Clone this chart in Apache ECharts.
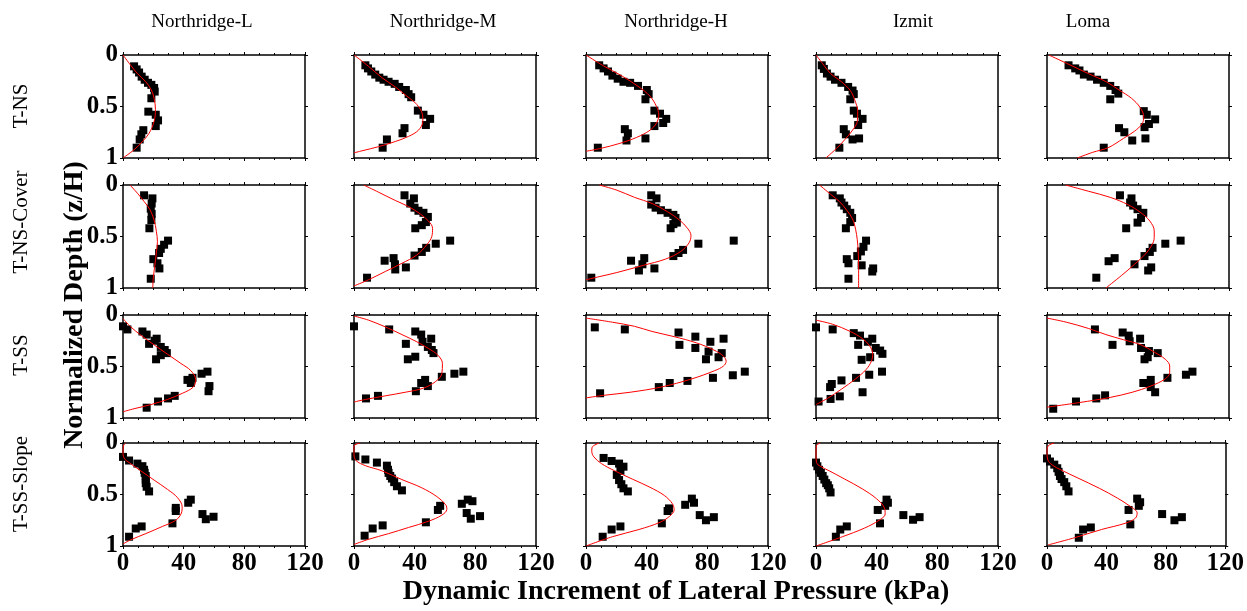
<!DOCTYPE html>
<html>
<head>
<meta charset="utf-8">
<script src="https://cdn.jsdelivr.net/npm/echarts@6/dist/echarts.min.js"></script>
<style>
html, body { margin: 0; padding: 0; background: #fff; }
#chart { width: 1247px; height: 611px; }
</style>
</head>
<body>
<div id="chart"></div>
<script>
var records = ['Northridge-L', 'Northridge-M', 'Northridge-H', 'Izmit', 'Loma'];
var models = ['T-NS', 'T-NS-Cover', 'T-SS', 'T-SS-Slope'];
var xTicks = [0, 40, 80, 120];

// each pair: measured [kPa, z/H] and the red fitted profile
// T-NS
var tns_L_pts = [[7.3,0.11],[9,0.14],[10.6,0.17],[12.3,0.21],[14.3,0.24],[16.5,0.27],[18.7,0.29],[20.5,0.32],[20.9,0.355],[18.7,0.42],[16.7,0.55],[21.6,0.58],[23.1,0.635],[21.6,0.69],[13.4,0.73],[12.1,0.77],[11,0.82],[9,0.9]];
var tns_L_fit = [[0,0],[5.1,0.1],[9.5,0.18],[15,0.26],[18.7,0.34],[20.5,0.42],[21.4,0.53],[20.5,0.645],[17.2,0.76],[12.8,0.84],[7.3,0.92],[0,1]];
var tns_M_pts = [[7.5,0.1],[9.2,0.13],[11.4,0.16],[14,0.19],[16.7,0.22],[19.5,0.24],[22.8,0.26],[26.8,0.28],[29.8,0.31],[34.2,0.34],[36,0.38],[37.7,0.41],[42.1,0.54],[45.8,0.58],[50.2,0.62],[47.4,0.68],[33.3,0.71],[32,0.76],[21.7,0.82],[18.9,0.9]];
var tns_M_fit = [[0,0],[9.6,0.11],[18.4,0.22],[27.2,0.31],[34.9,0.4],[41.4,0.48],[45.2,0.58],[45.4,0.645],[42.5,0.73],[36,0.79],[27.2,0.84],[16.2,0.89],[5.3,0.93],[0,0.95]];
var tns_H_pts = [[8.7,0.1],[11.6,0.13],[14.5,0.16],[17.4,0.2],[20.9,0.23],[24.7,0.26],[29.1,0.27],[34.3,0.3],[40.1,0.34],[41.3,0.38],[39.2,0.43],[45.1,0.54],[48.8,0.57],[52.9,0.62],[50.9,0.66],[45.1,0.69],[25.6,0.72],[27.6,0.76],[26.7,0.83],[39.2,0.81],[7.8,0.9]];
var tns_H_fit = [[0,0],[11.6,0.106],[23.3,0.2],[34.9,0.31],[42.2,0.4],[46.5,0.5],[48,0.58],[46.5,0.66],[42.2,0.73],[33.4,0.8],[21.8,0.86],[10.2,0.905],[0,0.935]];
var tns_I_pts = [[3.8,0.1],[5.2,0.135],[7.2,0.18],[9.6,0.21],[12.5,0.24],[16.8,0.27],[21.2,0.31],[24.1,0.345],[24.9,0.38],[22.6,0.43],[24.9,0.54],[27,0.57],[30.7,0.62],[27.8,0.68],[18.3,0.72],[19.7,0.77],[24.1,0.82],[28.4,0.81],[15.4,0.9]];
var tns_I_fit = [[0,0],[5.2,0.1],[9.6,0.18],[16.8,0.26],[22.6,0.345],[25.5,0.435],[27.5,0.55],[27.2,0.645],[24.1,0.73],[19.1,0.82],[13.3,0.91],[6.5,1]];
var tns_Lo_pts = [[14.2,0.1],[18.6,0.13],[21.4,0.15],[24.3,0.19],[28.7,0.21],[33,0.24],[37.4,0.27],[41.7,0.3],[45.2,0.34],[47,0.375],[41.7,0.43],[63.8,0.545],[65.8,0.58],[71.3,0.625],[67.2,0.67],[64.3,0.7],[47.5,0.71],[51,0.75],[56.2,0.83],[64.9,0.81],[37.4,0.9]];
var tns_Lo_fit = [[1.2,0],[12.8,0.08],[27.2,0.18],[39.1,0.26],[47.5,0.34],[55.7,0.42],[61.4,0.51],[63.8,0.6],[62.6,0.67],[57.7,0.74],[50.4,0.81],[40.3,0.9],[30.1,0.945],[20,1]];

// T-NS-Cover
var cov_L_pts = [[13.9,0.1],[19.4,0.13],[18.9,0.18],[18.3,0.23],[18.9,0.28],[18.7,0.34],[17.4,0.42],[29.7,0.54],[27.1,0.58],[24.9,0.62],[23.8,0.66],[20,0.72],[22.7,0.76],[24,0.81],[18.3,0.91]];
var cov_L_fit = [[4.6,0],[9.5,0.08],[13.9,0.16],[17.8,0.24],[20.5,0.34],[22,0.45],[22.7,0.55],[22,0.66],[20.9,0.79],[20,0.9],[19.6,1]];
var cov_M_pts = [[33.3,0.1],[39.5,0.13],[37.1,0.18],[39.9,0.22],[42.5,0.25],[45.8,0.27],[48.7,0.31],[47.4,0.36],[44.7,0.39],[40.4,0.42],[53.9,0.57],[63.4,0.54],[47.6,0.61],[44.7,0.65],[39.9,0.685],[26.1,0.71],[20.2,0.735],[27,0.77],[34.2,0.8],[27.2,0.82],[8.6,0.9]];
var cov_M_fit = [[6.4,0],[16.2,0.07],[27.2,0.15],[36,0.21],[43.6,0.28],[49.1,0.35],[51.8,0.42],[51.3,0.5],[48,0.58],[41.4,0.68],[31.6,0.76],[20.6,0.84],[9.6,0.92],[0,0.98]];
var cov_H_pts = [[43,0.1],[46.5,0.13],[43,0.19],[45.9,0.22],[49.4,0.245],[53.8,0.27],[57.6,0.29],[59,0.32],[59.9,0.365],[57.6,0.38],[55.8,0.42],[74.1,0.57],[97.4,0.54],[64,0.63],[61,0.66],[57.6,0.69],[29.7,0.735],[38.4,0.71],[37.2,0.77],[34.9,0.83],[45.1,0.81],[3.5,0.9]];
var cov_H_fit = [[8.7,0],[20.3,0.05],[32,0.12],[43.6,0.18],[53.8,0.26],[61.6,0.34],[66.9,0.42],[69.2,0.49],[68,0.56],[62.5,0.645],[52.3,0.72],[37.8,0.78],[20.3,0.85],[8.7,0.89],[0,0.92]];
var cov_I_pts = [[11,0.1],[15.7,0.13],[16.8,0.17],[18.6,0.2],[20.3,0.235],[22.6,0.27],[23.8,0.32],[22.6,0.36],[19.7,0.42],[33,0.54],[31.3,0.6],[29.6,0.645],[27.2,0.69],[20.3,0.72],[21.4,0.76],[30.1,0.78],[37.7,0.81],[37.1,0.84],[21.4,0.91]];
var cov_I_fit = [[2.3,0],[9.6,0.09],[15.4,0.16],[20.3,0.245],[24.1,0.33],[26.1,0.43],[27.2,0.53],[27.8,0.64],[28.1,0.8],[28.1,1]];
var cov_Lo_pts = [[48.1,0.1],[55.7,0.13],[54.8,0.17],[56.8,0.2],[59.7,0.235],[63.5,0.27],[62,0.32],[59.7,0.365],[52.2,0.42],[78,0.57],[88.1,0.54],[69.6,0.61],[67.8,0.65],[64.3,0.69],[57.7,0.77],[44.6,0.71],[40.6,0.74],[68.7,0.8],[66.7,0.83],[32.5,0.9]];
var cov_Lo_fit = [[12.2,0],[27.2,0.06],[41.7,0.12],[53.3,0.19],[62,0.27],[67.8,0.35],[70.7,0.445],[70.7,0.51],[69.3,0.58],[64.9,0.67],[57.7,0.77],[49,0.88],[38.8,1]];

// T-SS
var ss_L_pts = [[0,0.11],[2.9,0.14],[12.8,0.16],[15.6,0.19],[17.2,0.28],[20.9,0.25],[22.2,0.23],[24.9,0.31],[27.5,0.34],[28.9,0.37],[24.9,0.39],[21.8,0.43],[51.8,0.57],[55.7,0.55],[42.5,0.63],[44.7,0.66],[45.8,0.61],[57,0.69],[56.4,0.74],[34.1,0.785],[29.7,0.81],[23.1,0.84],[15.6,0.9]];
var ss_L_fit = [[0,0.035],[5.1,0.115],[11.7,0.195],[20.5,0.29],[29.3,0.38],[38.1,0.47],[44.7,0.54],[48,0.63],[46.3,0.7],[39.2,0.76],[29.3,0.82],[18.3,0.87],[7.3,0.91],[0,0.94]];
var ss_M_pts = [[0,0.11],[23.2,0.14],[40.4,0.16],[44.3,0.19],[50.9,0.23],[45.2,0.26],[34.2,0.28],[48.7,0.31],[51.3,0.34],[52.4,0.37],[40.4,0.405],[35.5,0.43],[66.2,0.57],[72.1,0.55],[57.9,0.6],[46.9,0.63],[44.3,0.66],[48.7,0.69],[40.8,0.74],[15.8,0.785],[7.9,0.81]];
var ss_M_fit = [[0,0.01],[9.6,0.05],[20.6,0.115],[31.6,0.19],[41.4,0.26],[49.1,0.325],[55.3,0.39],[58.3,0.47],[57.9,0.57],[53.9,0.645],[45.8,0.71],[33.8,0.75],[20.6,0.785],[7.5,0.82],[0,0.845]];
var ss_H_pts = [[5.8,0.12],[25.6,0.14],[61,0.17],[72.1,0.21],[90.7,0.23],[82,0.26],[61.6,0.29],[72.1,0.32],[80.8,0.355],[89.5,0.37],[87.4,0.41],[79.1,0.43],[104.7,0.55],[96.8,0.585],[83.7,0.61],[66.9,0.64],[55.2,0.66],[48,0.7],[9.3,0.76]];
var ss_H_fit = [[0,0.03],[17.4,0.07],[32,0.11],[43.6,0.16],[58.1,0.21],[72.7,0.27],[84.3,0.34],[90.7,0.4],[92.4,0.45],[90.7,0.495],[84.9,0.54],[69.8,0.62],[49.4,0.7],[29.1,0.75],[11.6,0.78],[0,0.805]];
var ss_I_pts = [[0,0.12],[11,0.14],[24.9,0.176],[29,0.2],[37.1,0.23],[34.2,0.26],[27.8,0.29],[39.4,0.32],[42.3,0.345],[43.8,0.377],[35.7,0.41],[30.1,0.435],[43.5,0.55],[35.1,0.58],[26.4,0.61],[16.8,0.635],[10.4,0.67],[9.3,0.7],[30.7,0.75],[15.7,0.79],[9.6,0.815],[1.7,0.84]];
var ss_I_fit = [[0,0.05],[11,0.09],[22.6,0.16],[30.7,0.23],[35.4,0.3],[37.4,0.38],[36.5,0.45],[33,0.53],[26.1,0.62],[16.8,0.72],[7.5,0.81],[0,0.87]];
var ss_Lo_pts = [[31.6,0.14],[49.9,0.17],[53.9,0.2],[61.4,0.23],[54.5,0.255],[43.2,0.29],[62,0.32],[67.2,0.35],[73,0.37],[66.4,0.41],[64.3,0.43],[95.9,0.55],[91.6,0.58],[79.4,0.61],[68.4,0.63],[63.5,0.66],[68.4,0.7],[71.3,0.75],[38.3,0.78],[32.5,0.81],[19.1,0.84],[4.1,0.91]];
var ss_Lo_fit = [[0,0.03],[12.8,0.07],[27.2,0.13],[38.8,0.19],[50.4,0.24],[62,0.29],[70.7,0.36],[78,0.43],[80.9,0.495],[80.9,0.56],[78,0.62],[68.4,0.69],[56.2,0.75],[41.7,0.8],[21.4,0.85],[0,0.895]];

// T-SS-Slope
var sl_L_pts = [[0,0.135],[4,0.17],[9.5,0.2],[12.8,0.225],[13.9,0.26],[14.3,0.29],[15,0.32],[15,0.355],[15,0.39],[15.6,0.425],[17.2,0.47],[44.7,0.55],[43,0.58],[34.8,0.63],[34.8,0.66],[32.6,0.78],[52.4,0.69],[54.6,0.74],[59.7,0.716],[12.3,0.81],[8.4,0.83],[4,0.91]];
var sl_L_fit = [[1.8,0],[0.2,0.03],[0,0.1],[1.1,0.155],[4,0.19],[11.7,0.27],[20.5,0.36],[29.3,0.45],[35.9,0.53],[39,0.62],[38.5,0.68],[34.8,0.75],[26,0.81],[15,0.88],[5.1,0.94],[0,0.98]];
var sl_M_pts = [[0.9,0.13],[7.5,0.16],[15.1,0.19],[21.7,0.22],[22.4,0.26],[22.8,0.29],[23.9,0.32],[25,0.345],[26.5,0.38],[28.3,0.42],[31.6,0.46],[56.8,0.61],[55.3,0.65],[47.4,0.77],[71.1,0.59],[75,0.55],[78.1,0.565],[74.3,0.68],[77,0.735],[83.1,0.71],[18.9,0.8],[12.3,0.83],[7,0.9]];
var sl_M_fit = [[4.2,0],[0,0.03],[0,0.11],[1.3,0.17],[7.5,0.22],[18.4,0.27],[31.6,0.355],[44.7,0.435],[54.6,0.52],[60.5,0.6],[61.2,0.645],[57.9,0.7],[49.1,0.76],[36,0.82],[22.8,0.88],[9.6,0.935],[0,0.985]];
var sl_H_pts = [[11.6,0.145],[16.9,0.175],[21.8,0.2],[24.7,0.23],[22.7,0.27],[20.3,0.31],[21.8,0.36],[23.3,0.4],[24.7,0.44],[27.6,0.47],[54.7,0.635],[53.8,0.66],[65.4,0.6],[69.8,0.54],[71.2,0.58],[75,0.7],[79.1,0.75],[84.3,0.72],[50,0.78],[22.7,0.81],[16.9,0.84],[11,0.91]];
var sl_H_fit = [[8.7,0],[4.1,0.04],[3.8,0.08],[5.2,0.135],[10.2,0.2],[18.9,0.27],[30.5,0.35],[42.2,0.43],[51.7,0.51],[57,0.59],[58.1,0.65],[55.2,0.71],[48.8,0.77],[34.9,0.84],[17.4,0.91],[0,1]];
var sl_I_pts = [[0,0.19],[0.9,0.226],[2,0.26],[3.2,0.29],[4.4,0.32],[5.5,0.355],[6.7,0.39],[7.8,0.41],[8.7,0.44],[9.6,0.48],[40.7,0.65],[46.5,0.55],[47.4,0.58],[45.6,0.61],[42.2,0.78],[57.6,0.7],[64,0.745],[68.3,0.72],[20.3,0.81],[16,0.84],[13.1,0.91]];
var sl_I_fit = [[2.9,0],[0.3,0.025],[0,0.105],[0.3,0.19],[2.9,0.226],[8.7,0.27],[18.9,0.35],[30.5,0.445],[39.8,0.54],[45.1,0.63],[45.6,0.69],[41.6,0.75],[32,0.826],[17.4,0.91],[0,1]];
var sl_Lo_pts = [[0,0.15],[2,0.18],[4.9,0.21],[6.9,0.245],[7.8,0.28],[8.7,0.32],[9.8,0.35],[11.6,0.38],[13,0.42],[14.5,0.47],[54.9,0.65],[60.7,0.54],[62.7,0.575],[61.8,0.61],[56.1,0.79],[77.5,0.69],[85.8,0.75],[90.8,0.72],[29.5,0.82],[24.3,0.84],[21.4,0.92]];
var sl_Lo_fit = [[4.9,0],[0.9,0.026],[0,0.084],[0.6,0.165],[3.5,0.213],[9.2,0.26],[20.8,0.34],[35.3,0.44],[47.4,0.535],[56.1,0.616],[60.7,0.68],[59.5,0.73],[53.2,0.777],[36.7,0.84],[18.5,0.92],[0.6,0.99]];

var panels = [
	[[tns_L_pts, tns_L_fit], [tns_M_pts, tns_M_fit], [tns_H_pts, tns_H_fit], [tns_I_pts, tns_I_fit], [tns_Lo_pts, tns_Lo_fit]],
	[[cov_L_pts, cov_L_fit], [cov_M_pts, cov_M_fit], [cov_H_pts, cov_H_fit], [cov_I_pts, cov_I_fit], [cov_Lo_pts, cov_Lo_fit]],
	[[ss_L_pts, ss_L_fit], [ss_M_pts, ss_M_fit], [ss_H_pts, ss_H_fit], [ss_I_pts, ss_I_fit], [ss_Lo_pts, ss_Lo_fit]],
	[[sl_L_pts, sl_L_fit], [sl_M_pts, sl_M_fit], [sl_H_pts, sl_H_fit], [sl_I_pts, sl_I_fit], [sl_Lo_pts, sl_Lo_fit]]
];

var colLeft = [123, 354, 586, 816, 1047];
var rowTop = [55, 185, 315, 443];
var panelW = 182, panelH = 103;
var titleX = [202, 443, 676, 913, 1088];
var rowLabelY = [106, 222, 355, 484];
var serif = 'Liberation Serif';

var grids = [], xAxes = [], yAxes = [], series = [];

panels.forEach(function(row, r) {
	row.forEach(function(p, c) {
		var k = grids.length;
		grids.push({ left: colLeft[c], top: rowTop[r], width: panelW, height: panelH });
		['bottom', 'top'].forEach(function(pos) {
			xAxes.push({
				gridIndex: k,
				type: 'value',
				position: pos,
				min: 0,
				max: 120,
				interval: 40,
				axisLine: { show: true, onZero: false, lineStyle: { color: '#000', width: 1.5 } },
				axisTick: { show: true, length: 3, lineStyle: { color: '#000', width: 1 } },
				minorTick: { show: true, splitNumber: 4, length: 2, lineStyle: { color: '#000', width: 1 } },
				splitLine: { show: false },
				axisLabel: {
					show: pos === 'bottom' && r === 3,
					margin: 5,
					color: '#000',
					fontFamily: serif,
					fontWeight: 'bold',
					fontSize: 25,
					customValues: xTicks
				}
			});
		});
		['left', 'right'].forEach(function(pos) {
			yAxes.push({
				gridIndex: k,
				type: 'value',
				position: pos,
				inverse: true,
				min: 0,
				max: 1,
				interval: 0.5,
				axisLine: { show: true, onZero: false, lineStyle: { color: '#000', width: 1.5 } },
				axisTick: { show: true, length: 3, lineStyle: { color: '#000', width: 1 } },
				splitLine: { show: false },
				axisLabel: {
					show: pos === 'left' && c === 0,
					margin: 5,
					color: '#000',
					fontFamily: serif,
					fontWeight: 'bold',
					fontSize: 25
				}
			});
		});
		series.push({
			type: 'scatter',
			xAxisIndex: 2 * k,
			yAxisIndex: 2 * k,
			symbol: 'rect',
			symbolSize: 8,
			itemStyle: { color: '#000', opacity: 1 },
			data: p[0],
			z: 2
		});
		series.push({
			type: 'line',
			xAxisIndex: 2 * k,
			yAxisIndex: 2 * k,
			smooth: 0.35,
			showSymbol: false,
			lineStyle: { color: '#ff0000', width: 1 },
			data: p[1],
			z: 3
		});
	});
});

var graphics = [];
records.forEach(function(name, c) {
	graphics.push({
		type: 'text', x: titleX[c], y: 22,
		style: { text: name, font: '19px "Liberation Serif"', fill: '#000', align: 'center', verticalAlign: 'middle' }
	});
});
models.forEach(function(name, r) {
	graphics.push({
		type: 'text', x: 21, y: rowLabelY[r], rotation: Math.PI / 2,
		style: { text: name, font: '21px "Liberation Serif"', fill: '#000', align: 'center', verticalAlign: 'middle' }
	});
});
graphics.push({
	type: 'text', x: 75, y: 305, rotation: Math.PI / 2,
	style: { text: 'Normalized Depth (z/H)', font: 'bold 28px "Liberation Serif"', fill: '#000', align: 'center', verticalAlign: 'middle' }
});
graphics.push({
	type: 'text', x: 676, y: 592,
	style: { text: 'Dynamic Increment of Lateral Pressure (kPa)', font: 'bold 28px "Liberation Serif"', fill: '#000', align: 'center', verticalAlign: 'middle' }
});

var chart = echarts.init(document.getElementById('chart'));
chart.setOption({
	animation: false,
	backgroundColor: '#fff',
	grid: grids,
	xAxis: xAxes,
	yAxis: yAxes,
	series: series,
	graphic: graphics
});
</script>
</body>
</html>
